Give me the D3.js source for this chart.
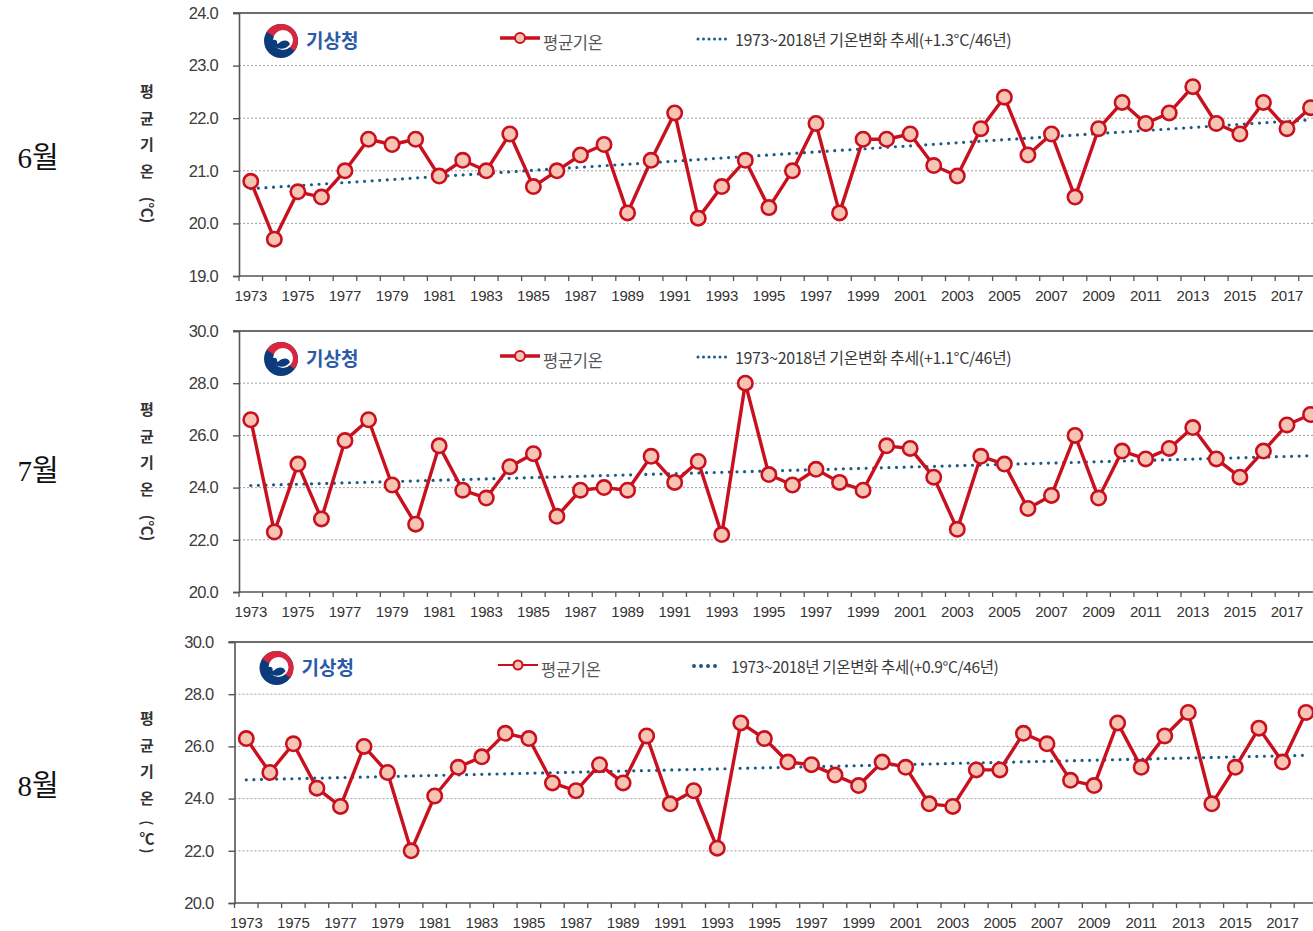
<!DOCTYPE html>
<html><head><meta charset="utf-8">
<script src="https://cdn.jsdelivr.net/npm/d3@7/dist/d3.min.js"></script>
<style>body{margin:0;background:#fff} svg{display:block}</style>
</head><body><svg id="c" width="1313" height="931"></svg>
<script>
const years = [1973,1974,1975,1976,1977,1978,1979,1980,1981,1982,1983,1984,1985,1986,1987,1988,1989,1990,1991,1992,1993,1994,1995,1996,1997,1998,1999,2000,2001,2002,2003,2004,2005,2006,2007,2008,2009,2010,2011,2012,2013,2014,2015,2016,2017,2018];
const yearLabels = ["1973","1975","1977","1979","1981","1983","1985","1987","1989","1991","1993","1995","1997","1999","2001","2003","2005","2007","2009","2011","2013","2015","2017"];
const juneTemps = [20.8,19.7,20.6,20.5,21.0,21.6,21.5,21.6,20.9,21.2,21.0,21.7,20.7,21.0,21.3,21.5,20.2,21.2,22.1,20.1,20.7,21.2,20.3,21.0,21.9,20.2,21.6,21.6,21.7,21.1,20.9,21.8,22.4,21.3,21.7,20.5,21.8,22.3,21.9,22.1,22.6,21.9,21.7,22.3,21.8,22.2];
const julyTemps = [26.6,22.3,24.9,22.8,25.8,26.6,24.1,22.6,25.6,23.9,23.6,24.8,25.3,22.9,23.9,24.0,23.9,25.2,24.2,25.0,22.2,28.0,24.5,24.1,24.7,24.2,23.9,25.6,25.5,24.4,22.4,25.2,24.9,23.2,23.7,26.0,23.6,25.4,25.1,25.5,26.3,25.1,24.4,25.4,26.4,26.8];
const augTemps = [26.3,25.0,26.1,24.4,23.7,26.0,25.0,22.0,24.1,25.2,25.6,26.5,26.3,24.6,24.3,25.3,24.6,26.4,23.8,24.3,22.1,26.9,26.3,25.4,25.3,24.9,24.5,25.4,25.2,23.8,23.7,25.1,25.1,26.5,26.1,24.7,24.5,26.9,25.2,26.4,27.3,23.8,25.2,26.7,25.4,27.3];
const trendYears = [1973, 2018];
const juneTrend = [20.66, 21.97];
const julyTrend = [24.08, 25.22];
const augTrend = [24.72, 25.66];
const juneTicks = [19.0,20.0,21.0,22.0,23.0,24.0];
const julyTicks = [20.0,22.0,24.0,26.0,28.0,30.0];
const augTicks = [20.0,22.0,24.0,26.0,28.0,30.0];
const monthLabels = ["6월","7월","8월"];
const seriesName = "평균기온";
const trendNames = ["1973~2018년 기온변화 추세(+1.3°C/46년)","1973~2018년 기온변화 추세(+1.1°C/46년)","1973~2018년 기온변화 추세(+0.9°C/46년)"];
const agencyName = "기상청";
const yTitleChars = ["평","균","기","온"];

const svg = d3.select("#c");
const RED = "#c8101e", PINK = "#f7c3b2", BLUE = "#1b5b86";
const KR = "'Noto Sans CJK KR', sans-serif";
const NUM = "'Liberation Sans', Arial, sans-serif";

const panels = [
  {temps: juneTemps, trend: juneTrend, ticks: juneTicks, month: monthLabels[0], tname: trendNames[0],
   x0: 239, top: 13, bottom: 276, monthY: 168, legY: 39, titleTop: 97, paren: "rot", slim: false},
  {temps: julyTemps, trend: julyTrend, ticks: julyTicks, month: monthLabels[1], tname: trendNames[1],
   x0: 239, top: 331, bottom: 592, monthY: 481, legY: 357, titleTop: 415, paren: "rot", slim: false},
  {temps: augTemps, trend: augTrend, ticks: augTicks, month: monthLabels[2], tname: trendNames[2],
   x0: 234.5, top: 642, bottom: 903, monthY: 796, legY: 666, titleTop: 724, paren: "split", slim: true}
];

const step = 23.55;

panels.forEach(p => {
  const g = svg.append("g");
  const x = d3.scaleBand().domain(years).range([p.x0, p.x0 + step * years.length]).padding(0);
  const bw = x.bandwidth();
  const cx = yr => x(yr) + bw / 2;
  const y = d3.scaleLinear().domain([d3.min(p.ticks), d3.max(p.ticks)]).range([p.bottom, p.top]);

  // gridlines
  g.selectAll(".grid").data(p.ticks.slice(1, -1)).join("line")
    .attr("x1", p.x0).attr("x2", 1313).attr("y1", d => y(d)).attr("y2", d => y(d))
    .attr("stroke", "#a0a0a0").attr("stroke-width", 1).attr("stroke-dasharray", "2,2");

  // top border
  g.append("line").attr("x1", p.x0 - 6).attr("x2", 1313).attr("y1", y(d3.max(p.ticks))).attr("y2", y(d3.max(p.ticks)))
    .attr("stroke", "#6e6e6e").attr("stroke-width", 2.2);

  // y axis
  const ya = d3.axisLeft(y).tickValues(p.ticks).tickFormat(d3.format(".1f")).tickSize(6).tickPadding(15);
  const yg = g.append("g").attr("transform", `translate(${p.x0},0)`).call(ya);
  yg.select(".domain").attr("stroke", "#555").attr("stroke-width", 1.6);
  yg.selectAll(".tick line").attr("stroke", "#555").attr("stroke-width", 1.4);
  yg.selectAll(".tick text").attr("font-family", NUM).attr("font-size", 16.5).attr("fill", "#3c3c3c")
    .attr("letter-spacing", -0.7);

  // x axis
  g.append("line").attr("x1", p.x0).attr("x2", 1313).attr("y1", p.bottom).attr("y2", p.bottom)
    .attr("stroke", "#555").attr("stroke-width", 1.6);
  g.selectAll(".xt").data(years).join("line")
    .attr("x1", d => x(d)).attr("x2", d => x(d)).attr("y1", p.bottom).attr("y2", p.bottom + 5)
    .attr("stroke", "#555").attr("stroke-width", 1.3);
  g.selectAll(".xl").data(yearLabels).join("text")
    .attr("x", d => cx(+d)).attr("y", p.bottom + 25)
    .attr("text-anchor", "middle").attr("font-family", NUM).attr("font-size", 15)
    .attr("fill", "#333").attr("letter-spacing", -0.2).text(d => d);

  // trend
  g.append("path").datum(trendYears.map((yr, i) => ({yr, v: p.trend[i]})))
    .attr("d", d3.line().x(d => cx(d.yr)).y(d => y(d.v)))
    .attr("fill", "none").attr("stroke", BLUE).attr("stroke-width", 3.2)
    .attr("stroke-linecap", "round").attr("stroke-dasharray", "0,7.6");

  // data line
  const pts = years.map((yr, i) => ({yr, v: p.temps[i]}));
  g.append("path").datum(pts)
    .attr("d", d3.line().x(d => cx(d.yr)).y(d => y(d.v)))
    .attr("fill", "none").attr("stroke", RED).attr("stroke-width", 3.4).attr("stroke-linejoin", "round");
  g.selectAll(".pt").data(pts).join("circle")
    .attr("cx", d => cx(d.yr)).attr("cy", d => y(d.v)).attr("r", 7.2)
    .attr("fill", PINK).attr("stroke", RED).attr("stroke-width", 2.6);

  // logo
  const lx = p.x0 + 42, ly = p.legY + 2;
  const lg = g.append("g").attr("transform", `translate(${lx},${ly})`);
  lg.append("circle").attr("r", 17).attr("fill", "#0b3b7a");
  lg.append("path").attr("d", d3.arc().innerRadius(9).outerRadius(17).startAngle(-1.0).endAngle(2.2)())
    .attr("fill", "#d7263d");
  lg.append("circle").attr("cx", 2).attr("cy", -1).attr("r", 10).attr("fill", "#fff");
  lg.append("path").attr("d", "M-9,1 C-7,9 5,10 9,3 C7,-2 1,-1 -2,2 C-4,4 -7,3 -9,1 Z").attr("fill", "#0b3b7a");
  lg.append("circle").attr("cx", -7).attr("cy", 2).attr("r", 3.2).attr("fill", "#0b3b7a");
  g.append("text").attr("x", lx + 25).attr("y", ly + 7).attr("font-family", KR).attr("font-weight", 700)
    .attr("font-size", 19).attr("fill", "#2a5ba8").text(agencyName);

  // legend: series
  const s0 = p.slim ? 498 : 500;
  g.append("line").attr("x1", s0).attr("x2", s0 + 40).attr("y1", p.legY - 1).attr("y2", p.legY - 1)
    .attr("stroke", RED).attr("stroke-width", p.slim ? 2.2 : 3.4);
  g.append("circle").attr("cx", s0 + 20).attr("cy", p.legY - 1).attr("r", p.slim ? 4.5 : 5)
    .attr("fill", PINK).attr("stroke", RED).attr("stroke-width", 2);
  g.append("text").attr("x", s0 + 43).attr("y", p.legY + 10).attr("font-family", KR)
    .attr("font-size", 16.5).attr("fill", "#555").attr("letter-spacing", -0.3).text(seriesName);

  // legend: trend
  const t0 = p.slim ? 694 : 698;
  g.append("line").attr("x1", t0).attr("x2", t0 + 28).attr("y1", p.legY).attr("y2", p.legY)
    .attr("stroke", BLUE).attr("stroke-width", p.slim ? 4 : 3).attr("stroke-linecap", "round")
    .attr("stroke-dasharray", p.slim ? "0,7" : "0,5.5");
  g.append("text").attr("x", t0 + 37).attr("y", p.legY + 7).attr("font-family", KR)
    .attr("font-size", p.slim ? 15.5 : 16).attr("fill", "#3a3a3a").attr("letter-spacing", -0.35).text(p.tname);

  // y title
  const tx = 147;
  yTitleChars.forEach((ch, i) => {
    g.append("text").attr("x", tx).attr("y", p.titleTop + i * 26.5).attr("text-anchor", "middle")
      .attr("font-family", KR).attr("font-weight", 700).attr("font-size", 15).attr("fill", "#333").text(ch);
  });
  const py = p.titleTop + 4 * 26.5 - 5;
  if (p.paren === "rot") {
    g.append("text").attr("transform", `translate(${tx - 5},${py + 12}) rotate(90)`)
      .attr("text-anchor", "middle").attr("font-family", KR).attr("font-weight", 700)
      .attr("font-size", 15).attr("fill", "#333").text("(℃)");
  } else {
    g.append("text").attr("transform", `translate(${tx - 5},${py - 2}) rotate(90)`)
      .attr("text-anchor", "middle").attr("font-family", KR).attr("font-weight", 700)
      .attr("font-size", 14).attr("fill", "#333").text("(");
    g.append("text").attr("x", tx).attr("y", py + 19).attr("text-anchor", "middle")
      .attr("font-family", KR).attr("font-weight", 700).attr("font-size", 15).attr("fill", "#333").text("℃");
    g.append("text").attr("transform", `translate(${tx - 5},${py + 26}) rotate(90)`)
      .attr("text-anchor", "middle").attr("font-family", KR).attr("font-weight", 700)
      .attr("font-size", 14).attr("fill", "#333").text(")");
  }

  // month label
  svg.append("text").attr("x", 38).attr("y", p.monthY).attr("text-anchor", "middle")
    .attr("font-family", "'Liberation Serif', 'Noto Sans CJK KR', serif").attr("font-size", 29)
    .attr("fill", "#111").text(p.month);
});
</script></body></html>
